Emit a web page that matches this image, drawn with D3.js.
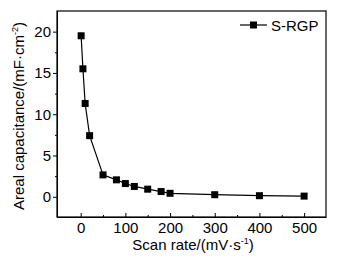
<!DOCTYPE html>
<html>
<head>
<meta charset="utf-8">
<script src="https://cdn.jsdelivr.net/npm/d3@7"></script>
<style>
  body { margin: 0; background: #fff; }
  svg text { font-family: "Liberation Sans", Arial, sans-serif; fill: #000; }
</style>
</head>
<body>
<svg id="chart"></svg>
<script>
var svgWidth = 347;
var svgHeight = 264;

// data
var scanRates = [1, 5, 10, 20, 50, 80, 100, 120, 150, 180, 200, 300, 400, 500];
var capacitance = [19.5, 15.5, 11.3, 7.4, 2.65, 2.05, 1.6, 1.25, 0.92, 0.63, 0.42, 0.25, 0.13, 0.08];
var xTicks = [0, 100, 200, 300, 400, 500];
var yTicks = [0, 5, 10, 15, 20];
var seriesName = "S-RGP";

var margin = { left: 57, top: 11, right: 21, bottom: 47 };
var chartWidth = svgWidth - margin.left - margin.right;
var chartHeight = svgHeight - margin.top - margin.bottom;
var fontSize = "15px";

var svg = d3.select("#chart")
  .attr("width", svgWidth)
  .attr("height", svgHeight);

var x = d3.scaleLinear().domain([-53, 549]).range([0, chartWidth]);
var y = d3.scaleLinear().domain([-2.45, 22.5]).range([chartHeight, 0]);

var g = svg.append("g")
  .attr("transform", "translate(" + margin.left + "," + margin.top + ")");

// x axis: ticks point inward
g.append("g")
  .attr("transform", "translate(0," + chartHeight + ")")
  .call(d3.axisBottom(x).tickValues(xTicks).tickSizeInner(-4).tickSizeOuter(0).tickPadding(5));
g.append("g")
  .attr("transform", "translate(0," + chartHeight + ")")
  .call(d3.axisBottom(x).tickValues([50, 150, 250, 350, 450]).tickSizeInner(-2).tickSizeOuter(0).tickFormat(""))
  .select(".domain").remove();

// y axis: ticks point outward
g.append("g")
  .call(d3.axisLeft(y).tickValues(yTicks).tickSizeInner(4).tickSizeOuter(0).tickPadding(2));
g.append("g")
  .call(d3.axisLeft(y).tickValues([2.5, 7.5, 12.5, 17.5]).tickSizeInner(2).tickSizeOuter(0).tickFormat(""))
  .select(".domain").remove();

svg.selectAll(".tick text").style("font-size", fontSize).style("font-family", "Liberation Sans, Arial, sans-serif");
svg.selectAll(".domain, .tick line").attr("stroke", "#000");

// frame
g.append("rect")
  .attr("width", chartWidth)
  .attr("height", chartHeight)
  .attr("fill", "none")
  .attr("stroke", "#000")
  .attr("stroke-width", 1.2);

var data = scanRates.map(function(d, i) { return { x: d, y: capacitance[i] }; });

var line = d3.line()
  .x(function(d) { return x(d.x); })
  .y(function(d) { return y(d.y); });

g.append("path")
  .datum(data)
  .attr("fill", "none")
  .attr("stroke", "#000")
  .attr("stroke-width", 1.2)
  .attr("d", line);

var size = 7;
g.selectAll(".pt")
  .data(data)
  .enter()
  .append("rect")
  .attr("class", "pt")
  .attr("x", function(d) { return x(d.x) - size / 2; })
  .attr("y", function(d) { return y(d.y) - size / 2; })
  .attr("width", size)
  .attr("height", size)
  .attr("fill", "#000");

// legend
var legend = svg.append("g").attr("transform", "translate(240,25)");
legend.append("line").attr("x1", 0).attr("x2", 27).attr("y1", 0).attr("y2", 0)
  .attr("stroke", "#000").attr("stroke-width", 1.2);
legend.append("rect").attr("x", 13.5 - size / 2).attr("y", -size / 2)
  .attr("width", size).attr("height", size).attr("fill", "#000");
legend.append("text").attr("x", 31).attr("y", 5.5)
  .style("font-size", fontSize).text(seriesName);

// axis titles
var xt = svg.append("text")
  .attr("x", 193)
  .attr("y", 250)
  .attr("text-anchor", "middle")
  .style("font-size", fontSize);
xt.append("tspan").text("Scan rate/(mV\u00b7s");
xt.append("tspan").attr("dy", -6).style("font-size", "9px").text("-1");
xt.append("tspan").attr("dy", 6).text(")");

var yt = svg.append("text")
  .attr("transform", "translate(24,116) rotate(-90)")
  .attr("text-anchor", "middle")
  .style("font-size", fontSize);
yt.append("tspan").text("Areal capacitance/(mF\u00b7cm");
yt.append("tspan").attr("dy", -6).style("font-size", "9px").text("-2");
yt.append("tspan").attr("dy", 6).text(")");
</script>
</body>
</html>
